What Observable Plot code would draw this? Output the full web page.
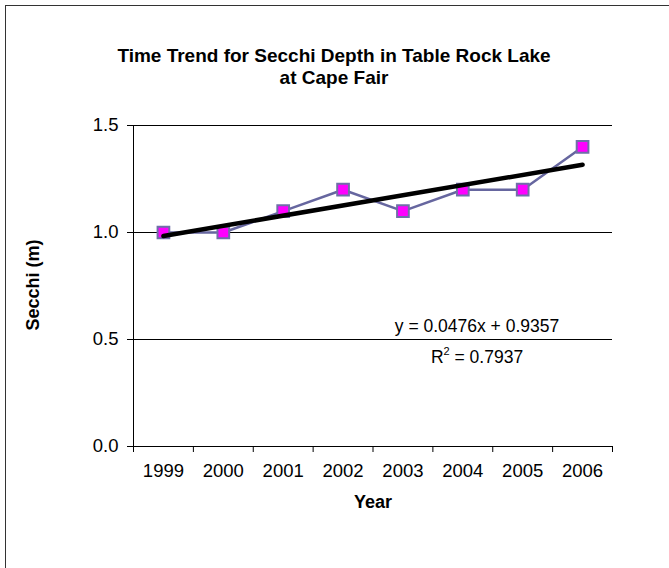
<!DOCTYPE html>
<html><head><meta charset="utf-8">
<script src="https://cdn.jsdelivr.net/npm/d3@7"></script>
<script src="https://cdn.jsdelivr.net/npm/@observablehq/plot@0.6"></script>
<style>
body{margin:0;overflow:hidden;background:#fff;font-family:"Liberation Sans",Arial,sans-serif;color:#000;}
#wrap{position:relative;width:669px;height:568px;overflow:hidden;}
#frame{position:absolute;left:5px;top:5px;width:720px;height:640px;border:1.5px solid #333;box-sizing:border-box;}
#title{position:absolute;left:34px;width:600px;top:45px;text-align:center;font-weight:bold;font-size:19px;line-height:22px;}
#chart{position:absolute;left:0;top:100px;}
#ylab{position:absolute;left:33px;top:285px;transform:translate(-50%,-50%) rotate(-90deg);font-weight:bold;font-size:18px;white-space:nowrap;}
#xlab{position:absolute;left:373px;top:502px;transform:translate(-50%,-50%);font-weight:bold;font-size:18px;}
.eq{position:absolute;left:477px;transform:translate(-50%,-50%);font-size:17.5px;white-space:nowrap;}
.eq sup{font-size:11px;vertical-align:8px;line-height:0;}
</style>
</head><body>
<div id="wrap">
  <div id="frame"></div>
  <div id="title">Time Trend for Secchi Depth in Table Rock Lake<br>at Cape Fair</div>
  <div id="chart"></div>
  <div id="ylab">Secchi (m)</div>
  <div id="xlab">Year</div>
  <div class="eq" style="top:326px">y = 0.0476x + 0.9357</div>
  <div class="eq" style="top:357px">R<sup>2</sup> = 0.7937</div>
</div>
<script>
const years = ["1999","2000","2001","2002","2003","2004","2005","2006"];
const secchi = [1.0, 1.0, 1.1, 1.2, 1.1, 1.2, 1.2, 1.4];
const yTicks = [0, 0.5, 1.0, 1.5];
const gridTicks = [0.5, 1.0, 1.5];

const data = years.map((y, i) => ({i: i + 1, year: y, v: secchi[i]}));
const bounds = d3.range(0.5, years.length + 1, 1);
const centers = d3.range(1, years.length + 1, 1);

const plot = Plot.plot({
  width: 669,
  height: 440,
  marginLeft: 133,
  marginRight: 57,
  marginTop: 25,
  marginBottom: 94,
  style: {background: "transparent", overflow: "visible", fontFamily: "Liberation Sans, Arial, sans-serif"},
  x: {type: "linear", domain: [0.5, years.length + 0.5]},
  y: {domain: [0, 1.5]},
  marks: [
    Plot.gridY(gridTicks, {stroke: "#000", strokeOpacity: 1, strokeWidth: 1}),
    Plot.ruleY([0], {stroke: "#000", strokeWidth: 1}),
    Plot.ruleX([0.5], {y1: 0, y2: 1.5, stroke: "#000", strokeWidth: 1}),
    Plot.axisY({ticks: yTicks, tickFormat: d3.format(".1f"), tickSize: 6, tickPadding: 9, fontSize: 18.5, label: null, stroke: "#000"}),
    Plot.axisX({ticks: bounds, tickFormat: () => "", tickSize: 6, label: null, stroke: "#000"}),
    Plot.axisX({ticks: centers, tickFormat: d => years[d - 1], tickSize: 0, tickPadding: 17, fontSize: 18.5, label: null}),
    Plot.line(data, {x: "i", y: "v", stroke: "#66669f", strokeWidth: 2.5}),
    Plot.dot(data, {x: "i", y: "v", symbol: "square", r: 6.6, fill: "#ff00ff", stroke: "#6f6fa8", strokeWidth: 2}),
    Plot.linearRegressionY(data, {x: "i", y: "v", stroke: "#000", strokeWidth: 4.5, ci: 0})
  ]
});
document.getElementById("chart").appendChild(plot);
</script>
</body></html>
